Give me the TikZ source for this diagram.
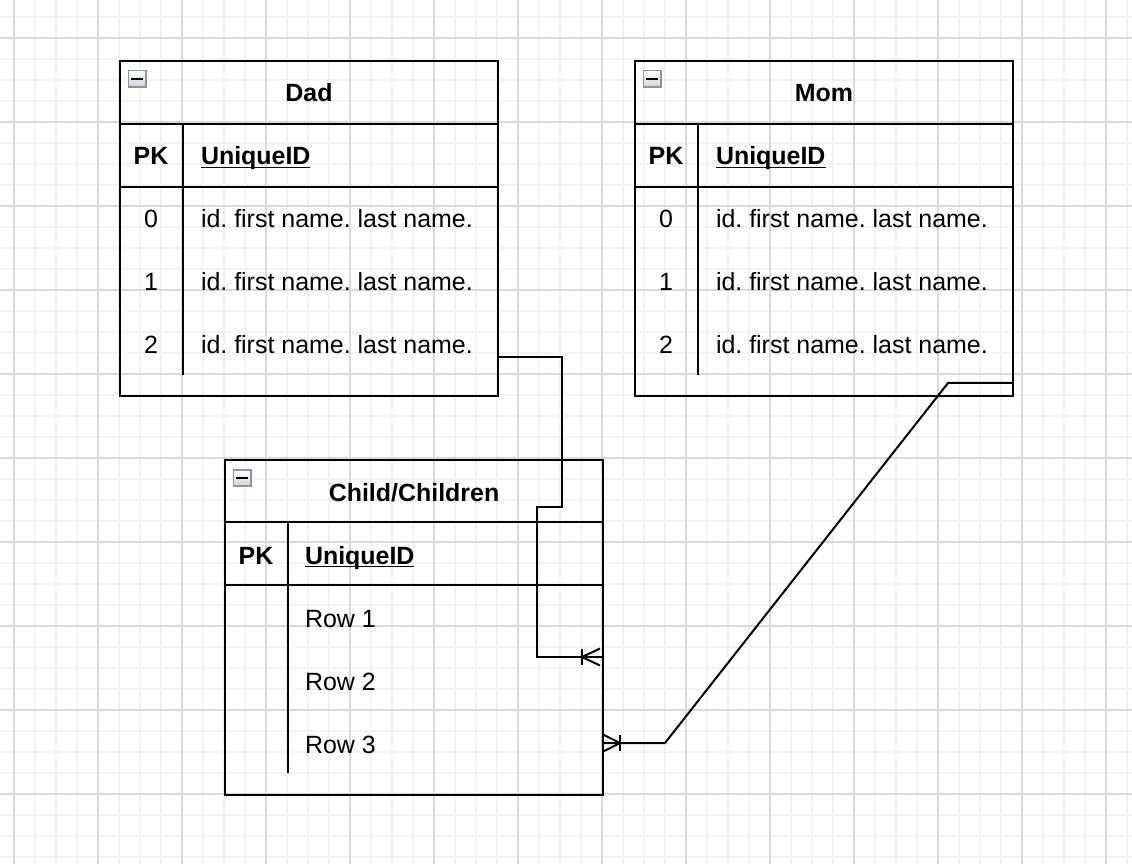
\documentclass[tikz,border=0pt]{standalone}
\usepackage{fontspec}
\setmainfont{Liberation Sans}
\usetikzlibrary{positioning,calc}
\frenchspacing

\definecolor{minorgrid}{HTML}{F3F3F3}
\definecolor{majorgrid}{HTML}{D9D9D9}
\definecolor{iconedge}{HTML}{8A94A6}

\begin{document}
\begin{tikzpicture}[x=0.02cm, y=-0.02cm, line width=0.04cm,
    tbl/.style={draw, rectangle, minimum width=7.56cm, minimum height=6.7cm, inner sep=0},
    minbox/.style={draw=iconedge, line width=0.03cm, top color=white, bottom color=gray!35,
        minimum width=0.35cm, minimum height=0.33cm, inner sep=0},
    title/.style={font=\fontsize{14.2}{17}\selectfont\bfseries, anchor=base, inner sep=0},
    key/.style={font=\fontsize{14.2}{17}\selectfont\bfseries, anchor=base, inner sep=0},
    num/.style={font=\fontsize{14.2}{17}\selectfont, anchor=base, inner sep=0},
    cell/.style={font=\fontsize{14.2}{17}\selectfont, anchor=base west, inner sep=0}]
    \useasboundingbox (0,0) rectangle (1132,864);
    \clip (0,0) rectangle (1132,864);

    % Grid
    \foreach \x in {-7,14,...,1135} \draw[minorgrid, line width=0.03cm] (\x,0) -- (\x,864);
    \foreach \y in {-4,17,...,868} \draw[minorgrid, line width=0.03cm] (0,\y) -- (1132,\y);
    \foreach \x in {14,98,...,1106} \draw[majorgrid, line width=0.025cm] (\x,0) -- (\x,864);
    \foreach \y in {38,122,...,794} \draw[majorgrid, line width=0.025cm] (0,\y) -- (1132,\y);

    % Parent tables
    \foreach \t/\name/\dx in {dad/Dad/0, mom/Mom/515} {
        \begin{scope}[xshift=\dx*0.02cm]
            \node[tbl] (\t) at (309,228.5) {};
            \draw (120,124) -- (498,124) (120,187) -- (498,187) (183,124) -- (183,375);
            \node[minbox] (\t min) at (137,79) {\rule{0.24cm}{0.045cm}};
            \node[title] (\t title) at (309,102) {\name};
            \node[key] (\t pk) at (151,165) {PK};
            \node[cell] (\t id) at (200,165) {\textbf{\underline{\smash{UniqueID}}}};
            \foreach \n/\y in {0/228, 1/291, 2/354} {
                \node[num] (\t n\n) at (151,\y) {\n};
                \node[cell] (\t r\n) at (200,\y) {id. first name. last name.};
            }
        \end{scope}
    }

    % Child table
    \node[tbl] (kid) at (414,627.5) {};
    \draw (225,522) -- (603,522) (225,585) -- (603,585) (288,522) -- (288,773);
    \node[minbox] (kidmin) at (242,478) {\rule{0.24cm}{0.045cm}};
    \node[title] (kidtitle) at (414,501) {Child/Children};
    \node[key] (kidpk) at (256,564) {PK};
    \node[cell] (kidid) at (304,564) {\textbf{\underline{\smash{UniqueID}}}};
    \foreach \n/\y in {1/627, 2/690, 3/753} {
        \node[cell] (kidr\n) at (304,\y) {Row \n};
    }

    % Links
    \coordinate (dadlink) at (498,357);
    \coordinate (momlink) at (1013,383);
    \coordinate (kidin1) at (603,657);
    \coordinate (kidin2) at (603,743);
    \draw (dadlink) -| (562,507) -| (537,657) -- (kidin1);
    \draw (momlink) -- (948,383) -- (665,743) -- (kidin2);

    % Crow's feet
    \draw (kidin1) ++(-21,-8) -- ++(0,16);
    \draw (kidin1) ++(-3,-8.5) -- ++(-18,8.5) -- ++(18,8.5);
    \draw (kidin2) ++(17,-8) -- ++(0,16);
    \draw (kidin2) ++(0,-8.5) -- ++(17,8.5) -- ++(-17,8.5);
\end{tikzpicture}
\end{document}
